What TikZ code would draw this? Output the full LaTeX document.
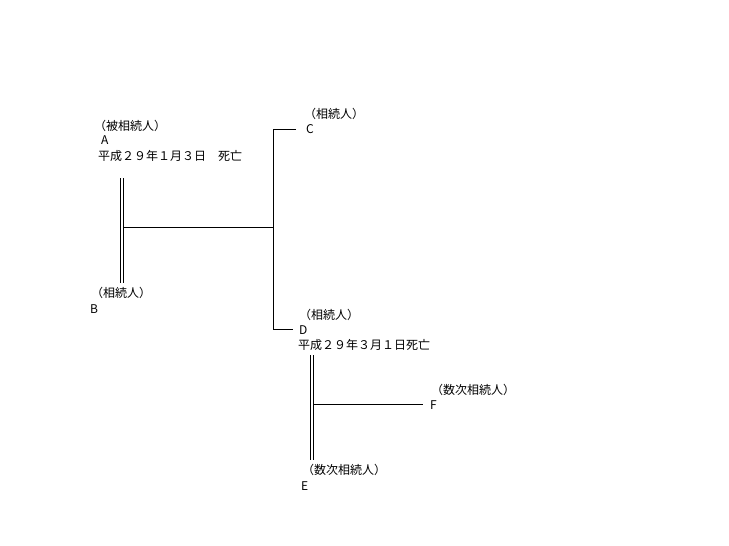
\documentclass[tikz,border=0pt]{standalone}
\usepackage{fontspec}
\newfontfamily\jp{Noto Sans CJK JP}
\begin{document}
\begin{tikzpicture}[x=1pt,y=-1pt,
  lbl/.style={anchor=west,inner sep=0pt,font=\jp\fontsize{12}{14}\selectfont},
  ln/.style={line width=0.9pt,black}]
\useasboundingbox (0,0) rectangle (729,546);
% texts
\node[lbl] (ahdr) at (94,126) {（被相続人）};
\node[lbl] (a) at (101,140) {A};
\node[lbl] (adate) at (98,156) {平成２９年１月３日　死亡};
\node[lbl] (bhdr) at (91,293) {（相続人）};
\node[lbl] (b) at (90,309) {B};
\node[lbl] (chdr) at (304,114) {（相続人）};
\node[lbl] (c) at (306,129) {C};
\node[lbl] (dhdr) at (299,315) {（相続人）};
\node[lbl] (d) at (299,330) {D};
\node[lbl] (ddate) at (298,345) {平成２９年３月１日死亡};
\node[lbl] (fhdr) at (431,390) {（数次相続人）};
\node[lbl] (f) at (430,405) {F};
\node[lbl] (ehdr) at (302,470) {（数次相続人）};
\node[lbl] (e) at (301,486) {E};
% coordinates
\coordinate (m1t) at (121.5,178);
\coordinate (m1b) at (121.5,283);
\coordinate (j1) at (123,227);
\coordinate (bt) at (273,227);
\coordinate (btop) at (273,129);
\coordinate (bbot) at (273,329);
\coordinate (cend) at (296,129);
\coordinate (dend) at (293,329);
\coordinate (m2t) at (312,355);
\coordinate (m2b) at (312,460);
\coordinate (j2) at (313.5,404);
\coordinate (fend) at (423,404);
% marriage double lines
\draw[ln] ([xshift=-1.5pt]m1t) -- ([xshift=-1.5pt]m1b);
\draw[ln] ([xshift=1.5pt]m1t) -- ([xshift=1.5pt]m1b);
\draw[ln] ([xshift=-1.5pt]m2t) -- ([xshift=-1.5pt]m2b);
\draw[ln] ([xshift=1.5pt]m2t) -- ([xshift=1.5pt]m2b);
% children
\draw[ln] (j1) -- (bt);
\draw[ln] (cend) -- (btop) -- (bbot) -- (dend);
\draw[ln] (j2) -- (fend);
\end{tikzpicture}
\end{document}
